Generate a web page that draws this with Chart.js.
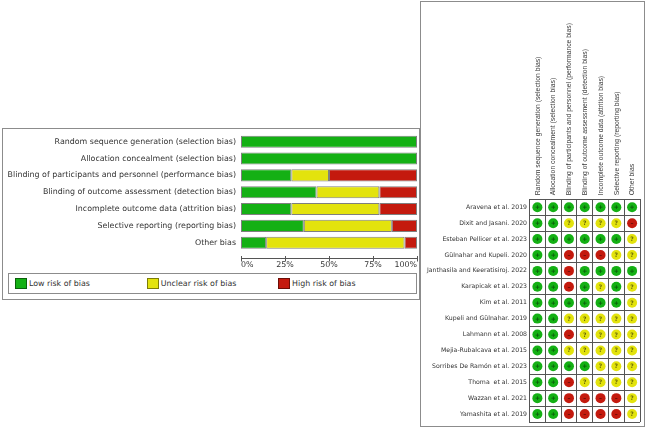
<!DOCTYPE html>
<html>
<head>
<meta charset="utf-8">
<script src="https://cdn.jsdelivr.net/npm/chart.js@4.4.1/dist/chart.umd.min.js"></script>
<style>
  html, body { margin: 0; padding: 0; background: #fff; }
  body { width: 649px; height: 428px; position: relative; overflow: hidden; font-family: "DejaVu Sans", sans-serif; }
  .panel { position: absolute; box-sizing: border-box; border: 1px solid #8c8c8c; background: #fff; }
  canvas { position: absolute; }
  .legend { position: absolute; box-sizing: border-box; border: 1px solid #8c8c8c; }
  .sw { position: absolute; box-sizing: border-box; width: 12px; height: 11px; border: 1px solid rgba(0,0,0,0.45); }
  .lt { position: absolute; font-size: 7.9px; color: #333; line-height: 11px; white-space: nowrap; }
</style>
</head>
<body>
<div class="panel" style="left:2px;top:128px;width:418px;height:172px;"></div>
<div class="panel" style="left:420px;top:1px;width:225px;height:426px;"></div>
<canvas id="bar" style="left:2px;top:128px;width:418px;height:142px;" width="418" height="142"></canvas>
<canvas id="grid" style="left:420px;top:1px;width:225px;height:426px;" width="225" height="426"></canvas>
<div class="legend" style="left:8px;top:273px;width:409px;height:21px;"></div>
<div id="legendItems"></div>
<script>
// ---- data ----
const domains = [
  "Random sequence generation (selection bias)",
  "Allocation concealment (selection bias)",
  "Blinding of participants and personnel (performance bias)",
  "Blinding of outcome assessment (detection bias)",
  "Incomplete outcome data (attrition bias)",
  "Selective reporting (reporting bias)",
  "Other bias"
];
const lowPct     = [100, 100, 28.6, 42.9, 28.6, 35.7, 14.3];
const unclearPct = [0,   0,   21.4, 35.7, 50.0, 50.0, 78.6];
const highPct    = [0,   0,   50.0, 21.4, 21.4, 14.3, 7.1];
const xTicks = [0, 25, 50, 75, 100];

const studies = [
  "Aravena et al. 2019",
  "Dixit and Jasani. 2020",
  "Esteban Pellicer et al. 2023",
  "Gülnahar and Kupeli. 2020",
  "Janthasila and Keeratisiroj. 2022",
  "Karapicak et al. 2023",
  "Kim et al. 2011",
  "Kupeli and Gülnahar. 2019",
  "Lahmann et al. 2008",
  "Mejia-Rubalcava et al. 2015",
  "Sorribes De Ramón et al. 2023",
  "Thoma  et al. 2015",
  "Wazzan et al. 2021",
  "Yamashita et al. 2019"
];
// L = low, U = unclear, H = high (one entry per domain)
const judgements = [
  ["L","L","L","L","L","L","L"],
  ["L","L","U","U","U","U","H"],
  ["L","L","L","L","L","L","U"],
  ["L","L","H","H","H","U","U"],
  ["L","L","H","L","L","L","L"],
  ["L","L","H","L","U","L","U"],
  ["L","L","L","L","L","L","U"],
  ["L","L","U","U","U","U","U"],
  ["L","L","H","U","U","U","U"],
  ["L","L","U","U","U","U","U"],
  ["L","L","L","L","U","U","U"],
  ["L","L","H","U","U","U","U"],
  ["L","L","H","H","H","H","U"],
  ["L","L","H","H","H","H","U"]
];
const legendLabels = ["Low risk of bias", "Unclear risk of bias", "High risk of bias"];

// ---- styles ----
const GREEN = "#14b014", YELLOW = "#e3e30d", RED = "#c41a0e";
const colors = [GREEN, YELLOW, RED];
const codes = ["L", "U", "H"];
const symbols = ["+", "?", "\u2013"];
const textColor = "#333";

// ---- left: stacked bar chart ----
const axisPlugin = {
  id: "axisLine",
  afterDraw(chart) {
    const ctx = chart.ctx, xs = chart.scales.x;
    const y = Math.round(chart.chartArea.bottom + 7) + 0.5;
    ctx.save();
    ctx.strokeStyle = "#555";
    ctx.lineWidth = 1;
    ctx.beginPath();
    ctx.moveTo(xs.getPixelForValue(0), y);
    ctx.lineTo(xs.getPixelForValue(100), y);
    xTicks.forEach(v => {
      const px = Math.round(xs.getPixelForValue(v)) + 0.5;
      ctx.moveTo(px, y - 2.5);
      ctx.lineTo(px, y + 3);
    });
    ctx.stroke();
    ctx.restore();
  }
};

new Chart(document.getElementById("bar"), {
  type: "bar",
  data: {
    labels: domains,
    datasets: [lowPct, unclearPct, highPct].map((d, i) => ({
      label: legendLabels[i],
      data: d,
      backgroundColor: colors[i],
      borderColor: "rgba(0,0,0,0.5)",
      borderWidth: 1,
      borderSkipped: false,
      categoryPercentage: 1,
      barPercentage: 0.72
    }))
  },
  options: {
    indexAxis: "y",
    responsive: false,
    animation: false,
    devicePixelRatio: 1,
    layout: { padding: { top: 5.3, right: 3, bottom: 0, left: 0 } },
    plugins: { legend: { display: false }, tooltip: { enabled: false } },
    scales: {
      x: {
        stacked: true, min: 0, max: 100,
        grid: { display: false, drawTicks: false },
        border: { display: false },
        afterBuildTicks(s) { s.ticks = xTicks.map(v => ({ value: v })); },
        afterFit(s) { s.height = 18.9; s.paddingLeft = 0; s.paddingRight = 0; },
        ticks: {
          align: "inner", padding: 9,
          color: textColor,
          font: { family: "DejaVu Sans", size: 7.9 },
          callback: v => v + "%"
        }
      },
      y: {
        stacked: true,
        grid: { display: false, drawTicks: false },
        border: { display: false },
        afterFit(s) { s.width = 239; s.paddingTop = 0; s.paddingBottom = 0; },
        ticks: {
          padding: 5, color: textColor, autoSkip: false,
          font: { family: "DejaVu Sans", size: 7.9 }
        }
      }
    }
  },
  plugins: [axisPlugin]
});

// legend (HTML text)
const legendPos = [15, 146.7, 278];
const li = document.getElementById("legendItems");
legendLabels.forEach((t, i) => {
  const sw = document.createElement("div");
  sw.className = "sw";
  sw.style.left = legendPos[i] + "px";
  sw.style.top = "278px";
  sw.style.background = colors[i];
  li.appendChild(sw);
  const tx = document.createElement("div");
  tx.className = "lt";
  tx.style.left = (legendPos[i] + 14) + "px";
  tx.style.top = "278px";
  tx.textContent = t;
  li.appendChild(tx);
});

// ---- right: risk of bias summary grid ----
const gridDatasets = codes.map((c, k) => {
  const pts = [];
  judgements.forEach((row, i) => row.forEach((j, d) => {
    if (j === c) pts.push({ x: domains[d], y: studies[i] });
  }));
  return {
    label: legendLabels[k],
    data: pts,
    backgroundColor: colors[k],
    borderColor: colors[k],
    pointRadius: 5,
    pointHoverRadius: 5,
    pointBorderWidth: 0,
    symbol: symbols[k]
  };
});

const symbolPlugin = {
  id: "symbols",
  afterDatasetsDraw(chart) {
    const ctx = chart.ctx;
    ctx.save();
    ctx.textAlign = "center";
    ctx.textBaseline = "middle";
    chart.data.datasets.forEach((ds, i) => {
      const meta = chart.getDatasetMeta(i);
      ctx.fillStyle = "rgba(0,0,0,0.55)";
      ctx.font = "bold 6px 'DejaVu Sans'";
      meta.data.forEach(el => ctx.fillText(ds.symbol, el.x, el.y + 0.5));
    });
    ctx.restore();
  }
};

new Chart(document.getElementById("grid"), {
  type: "scatter",
  data: { datasets: gridDatasets },
  options: {
    responsive: false,
    animation: false,
    devicePixelRatio: 1,
    layout: { padding: { top: 0, right: 3.5, bottom: 4, left: 0 } },
    plugins: { legend: { display: false }, tooltip: { enabled: false } },
    scales: {
      x: {
        type: "category", labels: domains, position: "top", offset: true,
        grid: { offset: true, color: "#555", drawTicks: false },
        border: { color: "#555" },
        afterFit(s) { s.height = 198.3; s.paddingLeft = 0; s.paddingRight = 0; },
        ticks: {
          autoSkip: false, minRotation: 90, maxRotation: 90, padding: 4, labelOffset: 8.5,
          color: "#3a3a3a", font: { family: "Liberation Sans", size: 6.8 }
        }
      },
      y: {
        type: "category", labels: studies, offset: true,
        grid: { offset: true, color: "#555", drawTicks: false },
        border: { color: "#555" },
        afterFit(s) { s.width = 109.5; s.paddingTop = 0; s.paddingBottom = 0; },
        ticks: {
          autoSkip: false, padding: 2.5,
          color: textColor, font: { family: "DejaVu Sans", size: 6.2 }
        }
      }
    }
  },
  plugins: [symbolPlugin]
});
</script>
</body>
</html>
